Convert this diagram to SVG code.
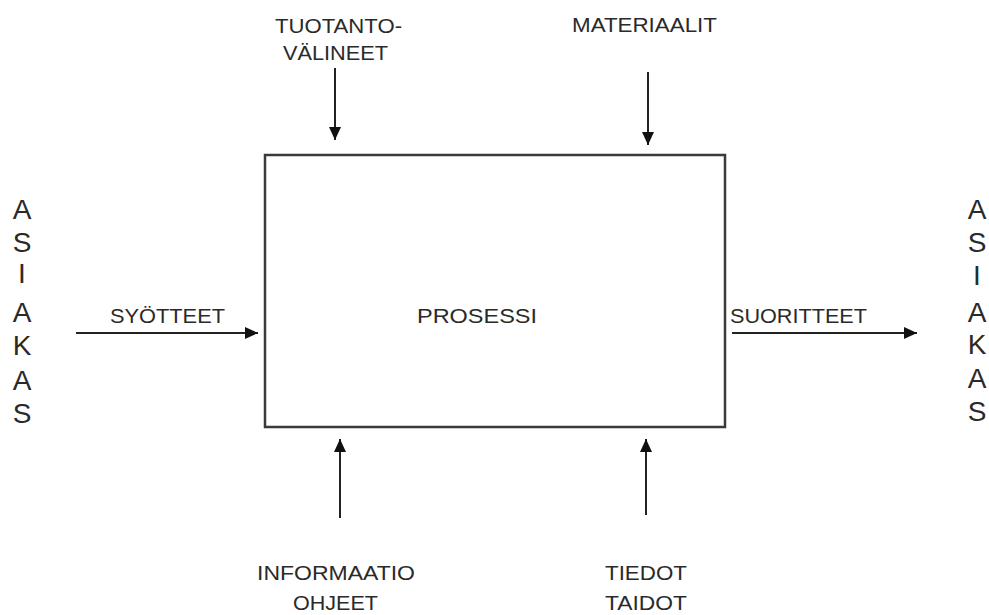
<svg xmlns="http://www.w3.org/2000/svg" width="989" height="615" viewBox="0 0 989 615">
<style>
.t{font-family:"Liberation Sans",Arial,sans-serif;font-size:21px;fill:#2a2a2a}
.v{font-family:"Liberation Sans",Arial,sans-serif;font-size:28px;fill:#2a2a2a;text-anchor:middle}
.c{stroke:#222;stroke-width:2;fill:none}
</style>
<defs>
<marker id="ah" markerUnits="userSpaceOnUse" markerWidth="14" markerHeight="12" refX="13" refY="6" orient="auto">
<path d="M0,0 L13,6 L0,12 Z" fill="#111"/>
</marker>
</defs>
<rect width="989" height="615" fill="#fff"/>
<g id="prosessi">
<rect x="265" y="155" width="460" height="272" fill="none" stroke="#3a3a3a" stroke-width="2.5"/>
<text class="t" x="417" y="323" textLength="120" lengthAdjust="spacingAndGlyphs">PROSESSI</text>
</g>
<g id="asiakas-left">
<text class="v" x="22" y="219">A</text>
<text class="v" x="22" y="252">S</text>
<text class="v" x="22" y="283">I</text>
<text class="v" x="22" y="322">A</text>
<text class="v" x="22" y="355">K</text>
<text class="v" x="22" y="390">A</text>
<text class="v" x="22" y="423">S</text>
</g>
<g id="asiakas-right">
<text class="v" x="977" y="219">A</text>
<text class="v" x="977" y="252">S</text>
<text class="v" x="977" y="285">I</text>
<text class="v" x="977" y="322">A</text>
<text class="v" x="977" y="354">K</text>
<text class="v" x="977" y="388">A</text>
<text class="v" x="977" y="421">S</text>
</g>
<g id="tuotantovalineet">
<text class="t" x="275" y="33" textLength="127" lengthAdjust="spacingAndGlyphs">TUOTANTO-</text>
<text class="t" x="283" y="60" textLength="105" lengthAdjust="spacingAndGlyphs">VÄLINEET</text>
</g>
<g id="materiaalit">
<text class="t" x="572" y="32" textLength="145" lengthAdjust="spacingAndGlyphs">MATERIAALIT</text>
</g>
<g id="syotteet">
<text class="t" x="110" y="323" textLength="115" lengthAdjust="spacingAndGlyphs">SYÖTTEET</text>
</g>
<g id="suoritteet">
<text class="t" x="730" y="323" textLength="137" lengthAdjust="spacingAndGlyphs">SUORITTEET</text>
</g>
<g id="informaatio">
<text class="t" x="257" y="580" textLength="158" lengthAdjust="spacingAndGlyphs">INFORMAATIO</text>
<text class="t" x="293" y="610" textLength="85" lengthAdjust="spacingAndGlyphs">OHJEET</text>
</g>
<g id="tiedot">
<text class="t" x="605" y="580" textLength="82" lengthAdjust="spacingAndGlyphs">TIEDOT</text>
<text class="t" x="605" y="610" textLength="82" lengthAdjust="spacingAndGlyphs">TAIDOT</text>
</g>
<g id="connectors">
<line class="c" x1="335" y1="68" x2="335" y2="140" marker-end="url(#ah)"/>
<line class="c" x1="648" y1="72" x2="648" y2="145" marker-end="url(#ah)"/>
<line class="c" x1="76" y1="333" x2="258" y2="333" marker-end="url(#ah)"/>
<line class="c" x1="732" y1="333" x2="917" y2="333" marker-end="url(#ah)"/>
<line class="c" x1="340" y1="518" x2="340" y2="439" marker-end="url(#ah)"/>
<line class="c" x1="646" y1="515" x2="646" y2="439" marker-end="url(#ah)"/>
</g>
</svg>
